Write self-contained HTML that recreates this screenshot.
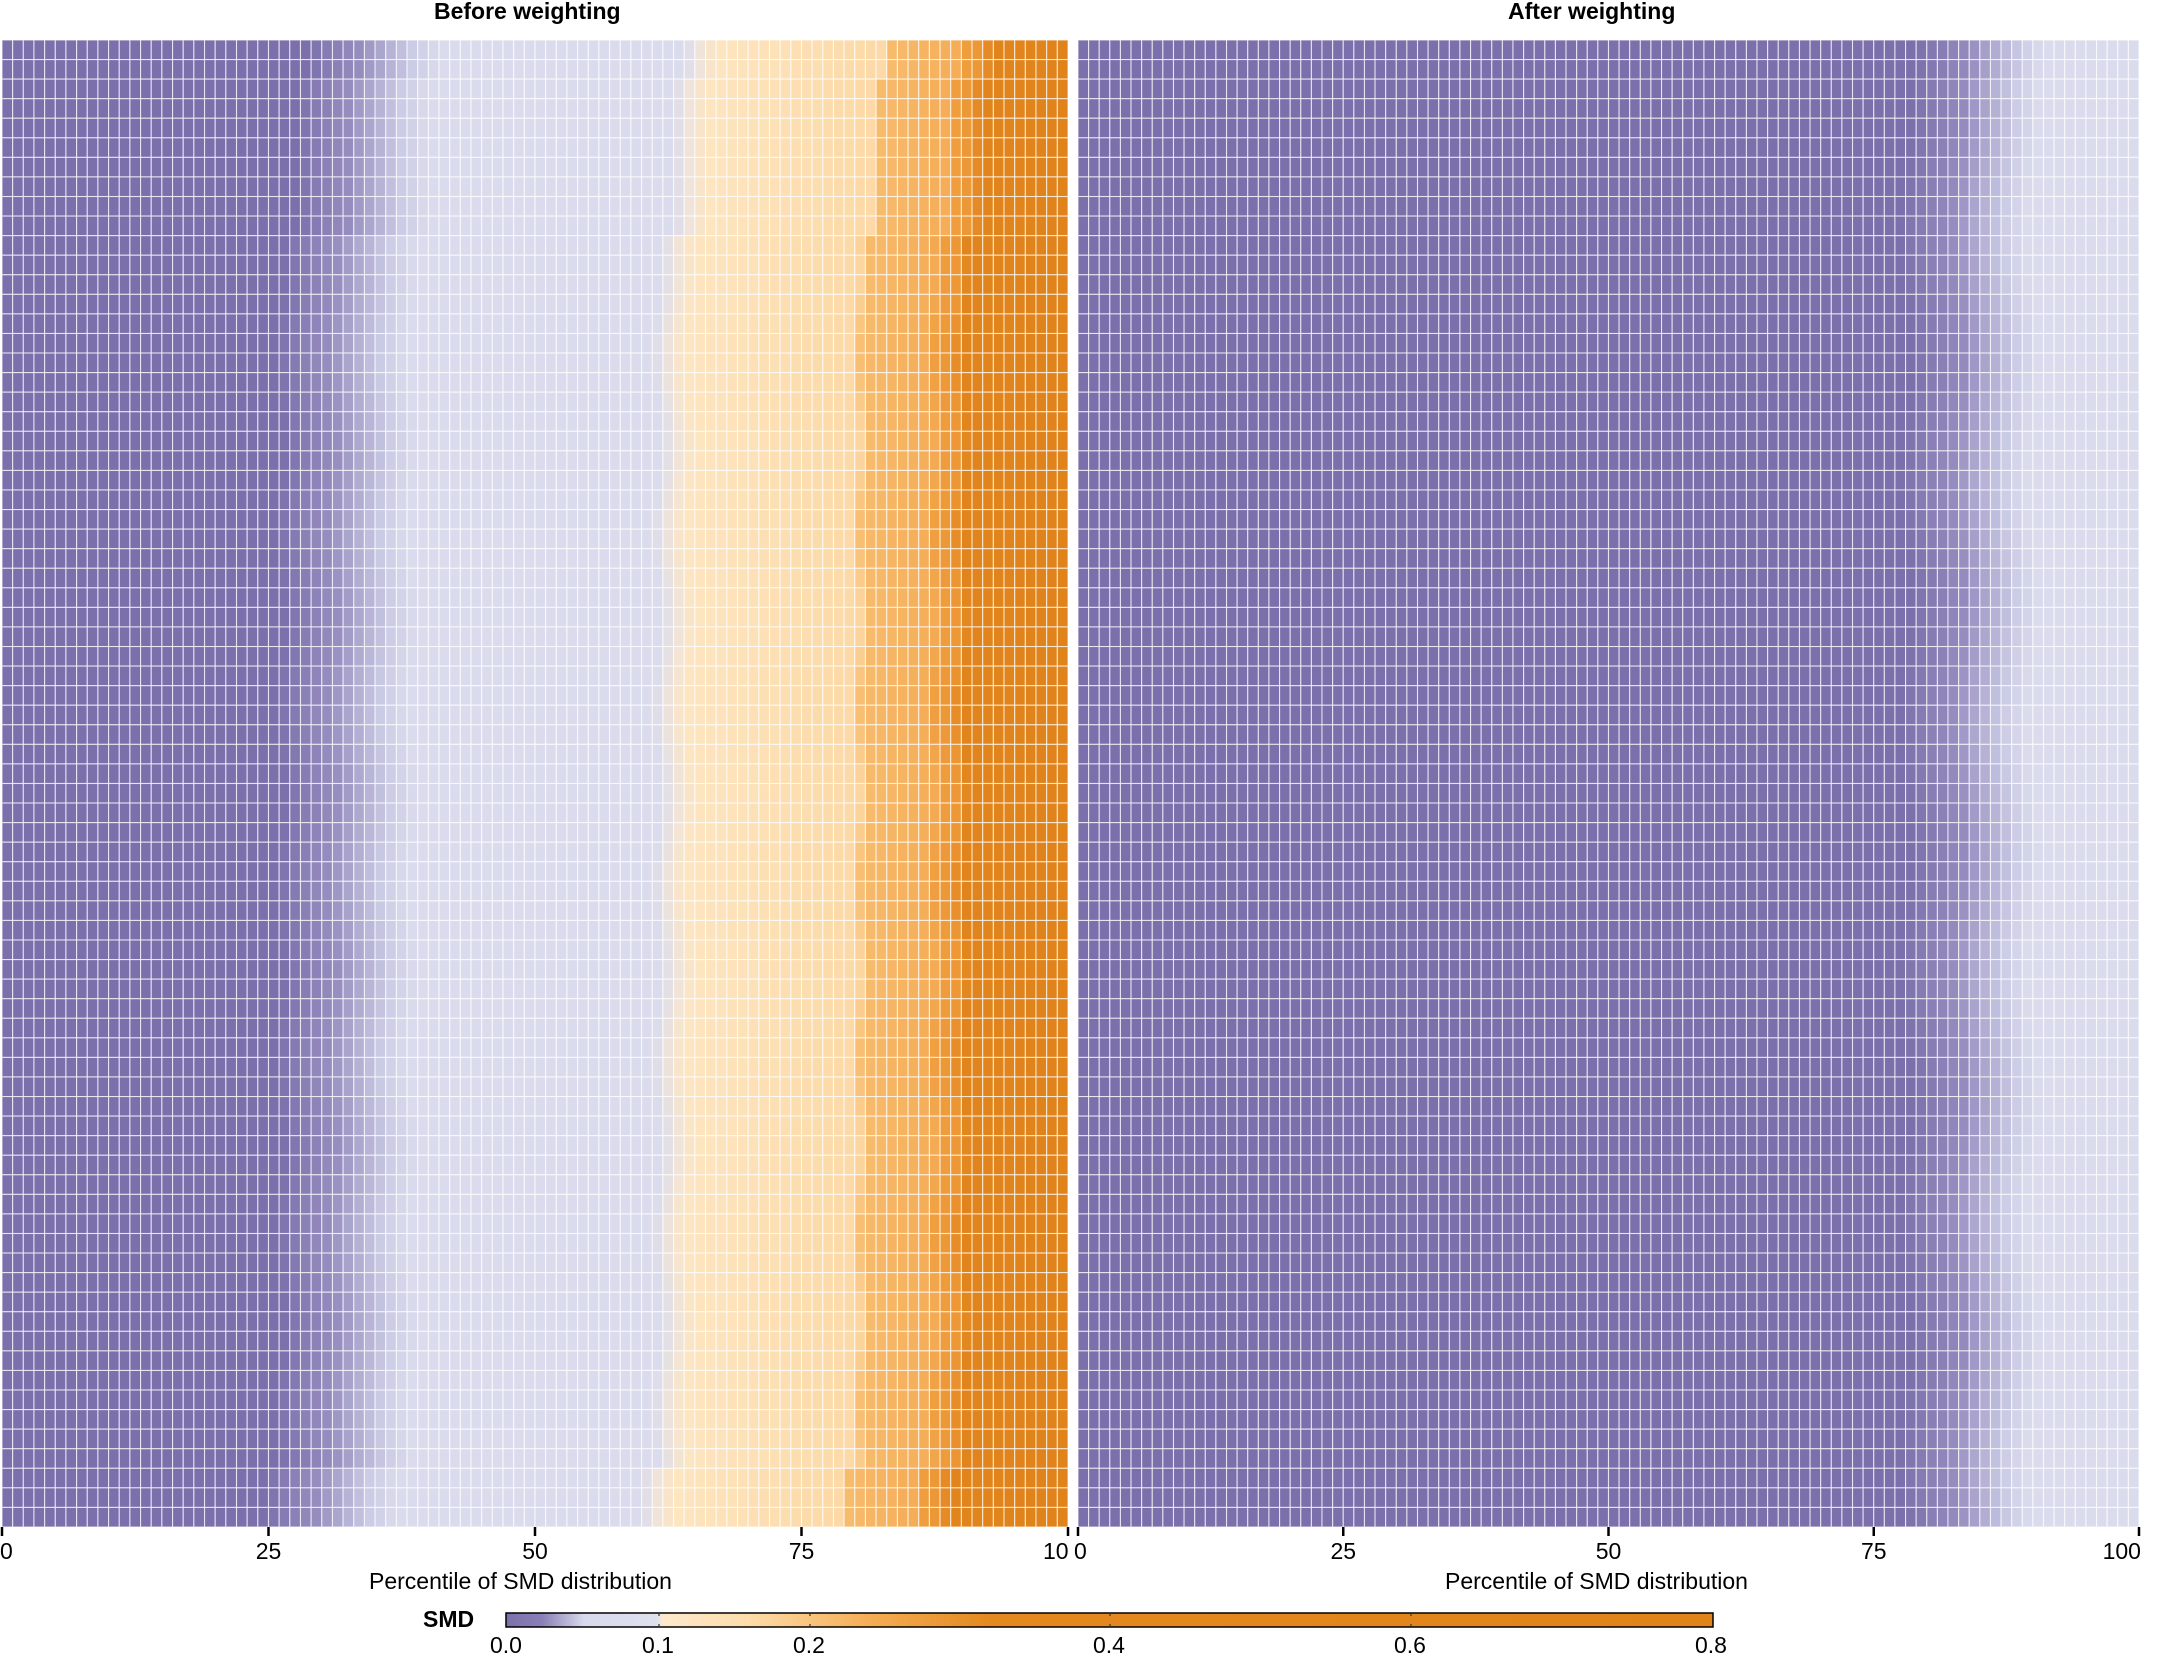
<!DOCTYPE html>
<html><head><meta charset="utf-8"><style>
html,body{margin:0;padding:0;background:#fff;}
body{width:2162px;height:1657px;position:relative;overflow:hidden;font-family:"Liberation Sans",sans-serif;}
.t{position:absolute;white-space:nowrap;color:#000;}
</style></head><body>
<svg id="s" width="2162" height="1657" style="position:absolute;left:0;top:0">
<defs>
<linearGradient id="cb" x1="0" x2="1" y1="0" y2="0">
<stop offset="0" stop-color="#7b70ab"/>
<stop offset="0.03" stop-color="#8a80b6"/>
<stop offset="0.065" stop-color="#d8daec"/>
<stop offset="0.125" stop-color="#dfe0ee"/>
<stop offset="0.13" stop-color="#fde9cb"/>
<stop offset="0.2" stop-color="#fddcab"/>
<stop offset="0.3" stop-color="#f5ae55"/>
<stop offset="0.4" stop-color="#e4891f"/>
<stop offset="1" stop-color="#e0831a"/>
</linearGradient>
</defs>
<g id="cells"></g>
<rect x="506" y="1613" width="1207" height="14" fill="url(#cb)" stroke="#000" stroke-width="1.5"/>
<g stroke="#333" stroke-width="1.2">
<line x1="659" y1="1613" x2="659" y2="1616"/><line x1="659" y1="1624" x2="659" y2="1627"/>
<line x1="810" y1="1613" x2="810" y2="1616"/><line x1="810" y1="1624" x2="810" y2="1627"/>
<line x1="1110" y1="1613" x2="1110" y2="1616"/><line x1="1110" y1="1624" x2="1110" y2="1627"/>
<line x1="1411" y1="1613" x2="1411" y2="1616"/><line x1="1411" y1="1624" x2="1411" y2="1627"/>
</g>
<g id="ticks" stroke="#000" stroke-width="2.5"></g>
</svg>
<div class="t" style="left:434px;top:-2px;font-size:23px;font-weight:bold">Before weighting</div>
<div class="t" style="left:1508px;top:-2px;font-size:23px;font-weight:bold">After weighting</div>
<div id="lbl"></div>
<div class="t" style="left:369px;top:1568px;font-size:23px">Percentile of SMD distribution</div>
<div class="t" style="left:1445px;top:1568px;font-size:23px">Percentile of SMD distribution</div>
<div class="t" style="left:423px;top:1606px;font-size:23px;font-weight:bold">SMD</div>
<div class="t" style="left:490px;top:1632px;font-size:23px">0.0</div>
<div class="t" style="left:642px;top:1632px;font-size:23px">0.1</div>
<div class="t" style="left:793px;top:1632px;font-size:23px">0.2</div>
<div class="t" style="left:1093px;top:1632px;font-size:23px">0.4</div>
<div class="t" style="left:1394px;top:1632px;font-size:23px">0.6</div>
<div class="t" style="left:1695px;top:1632px;font-size:23px">0.8</div>
<script>
(function(){
function hx(h){return [parseInt(h.substr(1,2),16),parseInt(h.substr(3,2),16),parseInt(h.substr(5,2),16)];}
function interp(stops,v){
 if(v<=stops[0][0])return hx(stops[0][1]);
 for(var i=1;i<stops.length;i++){if(v<=stops[i][0]){var a=stops[i-1],b=stops[i];var t=(v-a[0])/(b[0]-a[0]);var c1=hx(a[1]),c2=hx(b[1]);return [0,1,2].map(function(k){return Math.round(c1[k]+(c2[k]-c1[k])*t);});}}
 return hx(stops[stops.length-1][1]);
}
var P="#7b70ab",L="#dadced",C="#fde5c0";
var before=[[0,P],[26,P],[31,"#968dbf"],[36,"#cbcce5"],[38.5,L],[61.5,L],[63,"#efe3da"],[64.5,C],[80,"#fcd9a6"],[81,"#f7bb6c"],[87,"#f5ad57"],[88,"#ef9d3d"],[89.5,"#ec9533"],[90.3,"#e1841b"],[100,"#e0831a"]];
var after=[[0,P],[78,P],[83,"#958bbe"],[88,"#cccde6"],[90,L],[100,L]];
var rows=76,tp=40,bt=1527,rh=(bt-tp)/rows;
var panels=[[2,1068,before],[1078,2139,after]];
var g=document.getElementById('cells'),out=[];
panels.forEach(function(p,pi){
 var cw=(p[1]-p[0])/100;
 for(var r=0;r<rows;r++){
  var sh=0;
  if(pi==0){ if(r<2)sh=2.5; else if(r<10)sh=1.5; else if(r>=73)sh=-1.5; else sh=0.4*Math.sin(r*0.7);}
  else { sh=0.6*Math.sin(r*0.5); if(r<2)sh=1; }
  for(var c=0;c<100;c++){
   var col=interp(p[2],c+0.5-sh);
   out.push('<rect x="'+(p[0]+c*cw).toFixed(2)+'" y="'+(tp+r*rh).toFixed(2)+'" width="'+cw.toFixed(2)+'" height="'+rh.toFixed(2)+'" fill="rgb('+col.join(',')+')" stroke="#fff" stroke-opacity="0.7" stroke-width="1.1"/>');
  }
 }
});
g.innerHTML=out.join('');
var tk=[],lb=[];
panels.forEach(function(p,pi){
 [0,25,50,75,100].forEach(function(v){
  var x=p[0]+(p[1]-p[0])*v/100;
  tk.push('<line x1="'+x+'" y1="1527" x2="'+x+'" y2="1536"/>');
  var txt=(pi==0&&v==100)?"10":String(v);
  var w=txt.length*12.8;
  var lx;
  if(pi==0&&v==0)lx=0;
  else if(pi==1&&v==0)lx=x-4;
  else if(pi==0&&v==100)lx=x-25;
  else if(pi==1&&v==100)lx=x-w+2;
  else lx=x-w/2;
  lb.push('<div class="t" style="left:'+lx+'px;top:1538px;font-size:23px">'+txt+'</div>');
 });
});
document.getElementById('ticks').innerHTML=tk.join('');
document.getElementById('lbl').innerHTML=lb.join('');
})();
</script>
</body></html>
